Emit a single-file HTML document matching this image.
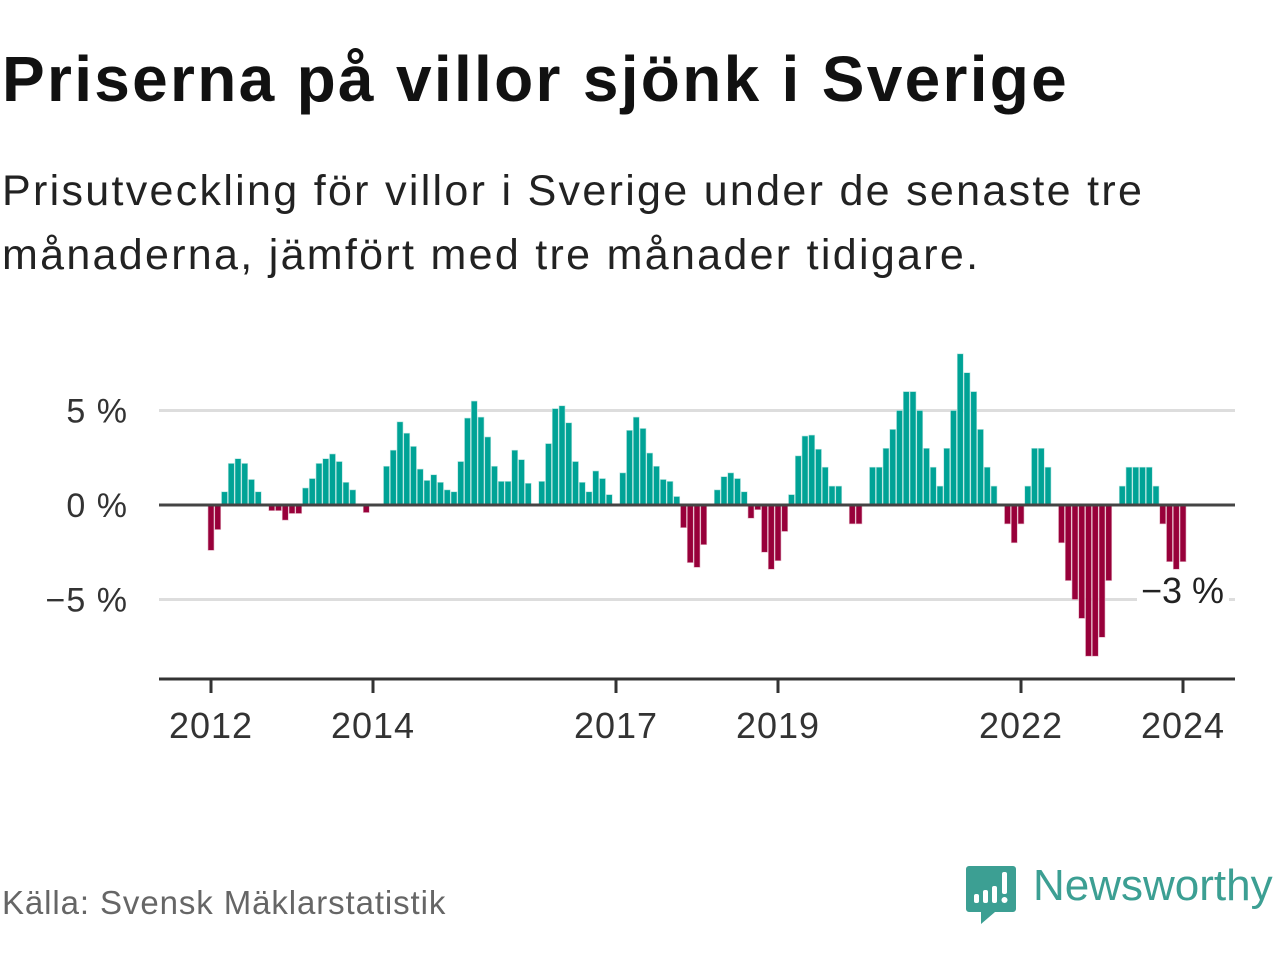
<!DOCTYPE html>
<html><head><meta charset="utf-8"><style>
body{margin:0;width:1280px;height:960px;background:#fff;font-family:"Liberation Sans",sans-serif;overflow:hidden;position:relative}
.t{position:absolute;margin:0;white-space:nowrap}
</style></head><body>
<h1 class="t" style="left:2px;top:42px;font-size:64px;font-weight:bold;color:#111;letter-spacing:2.3px">Priserna på villor sjönk i Sverige</h1>
<p class="t" style="left:2px;top:159px;font-size:43px;line-height:64px;color:#222;letter-spacing:2.3px">Prisutveckling för villor i Sverige under de senaste tre<br>månaderna, jämfört med tre månader tidigare.</p>
<svg id="chart" width="1280" height="960" style="position:absolute;left:0;top:0"></svg>
<p class="t" style="left:2px;top:884px;font-size:33px;color:#666;letter-spacing:0.9px">Källa: Svensk Mäklarstatistik</p>
<div style="position:absolute;left:965px;top:864px">
<svg width="52" height="62"><path d="M4 2h44a3 3 0 0 1 3 3v40a3 3 0 0 1-3 3H30l-14 12v-12H4a3 3 0 0 1-3-3V5a3 3 0 0 1 3-3z" fill="#3c9f93"/><rect x="9" y="30" width="5" height="9" rx="2" fill="#fff"/><rect x="18" y="26" width="5" height="13" rx="2" fill="#fff"/><rect x="27" y="22" width="5" height="17" rx="2" fill="#fff"/><rect x="37" y="8" width="5" height="22" rx="2" fill="#fff"/><circle cx="39.5" cy="36" r="3" fill="#fff"/></svg>
<span class="t" style="left:68px;top:-3px;font-size:44px;color:#3c9f93">Newsworthy</span>
</div>
<script>
const values=[-2.4,-1.3,0.7,2.2,2.45,2.2,1.35,0.7,0,-0.3,-0.3,-0.8,-0.45,-0.45,0.9,1.4,2.2,2.45,2.7,2.3,1.2,0.8,0,-0.4,0,0,2.05,2.9,4.4,3.8,3.1,1.9,1.3,1.6,1.2,0.8,0.7,2.3,4.6,5.5,4.65,3.6,2.05,1.25,1.25,2.9,2.4,1.15,0,1.25,3.25,5.1,5.25,4.35,2.3,1.2,0.7,1.8,1.4,0.55,0,1.7,3.95,4.65,4.05,2.75,2.05,1.35,1.25,0.45,-1.2,-3.05,-3.3,-2.1,0,0.8,1.5,1.7,1.4,0.7,-0.7,-0.25,-2.5,-3.4,-2.95,-1.4,0.55,2.6,3.65,3.7,2.95,2.0,1.0,1.0,0,-1,-1,0,2,2,3,4,5,6,6,5,3,2,1,3,5,8,7,6,4,2,1,0,-1,-2,-1,1,3,3,2,0,-2,-4,-5,-6,-8,-8,-7,-4,0,1,2,2,2,2,1,-1,-3,-3.4,-3];
const startYear=2012;
const yTicks=[5,0,-5];
const yTickLabels=["5 %","0 %","−5 %"];
const xTickYears=[2012,2014,2017,2019,2022,2024];
const lastLabel="−3 %";
const NS="http://www.w3.org/2000/svg",svg=document.getElementById('chart');
const x=i=>211+6.75*i, xYear=yr=>x((yr-startYear)*12), y=v=>505-18.9*v;
function mk(t,a){const e=document.createElementNS(NS,t);for(const k in a)e.setAttribute(k,a[k]);svg.appendChild(e);return e;}
yTicks.forEach((v,k)=>{
 if(v!==0){const g=mk('line',{x1:159,x2:1235,y1:y(v),y2:y(v),stroke:'#ddd','stroke-width':3});
 
 }
 const t=mk('text',{x:128,y:y(v)+12,'text-anchor':'end','font-size':34,fill:'#333','font-family':'Liberation Sans, sans-serif','letter-spacing':1});
 t.textContent=yTickLabels[k];
 
 
});
values.forEach((v,i)=>{
 if(v===0)return;
 const r=mk('rect',{x:x(i)-3,y:Math.min(y(v),y(0)),width:6,height:Math.abs(y(v)-y(0)),fill:v>0?'#00a396':'#98003a',stroke:v>0?'#b5e4df':'#e3b5c5','stroke-width':0.6});
 
 
});
const z=mk('line',{x1:159,x2:1235,y1:y(0),y2:y(0),stroke:'#444','stroke-width':3});


const ax=mk('line',{x1:159,x2:1235,y1:679,y2:679,stroke:'#333','stroke-width':3});


xTickYears.forEach(yr=>{
 const tk=mk('line',{x1:xYear(yr),x2:xYear(yr),y1:679,y2:693,stroke:'#333','stroke-width':3});
 
 
 const t=mk('text',{x:xYear(yr),y:738,'text-anchor':'middle','font-size':36,fill:'#333','font-family':'Liberation Sans, sans-serif','letter-spacing':1});
 t.textContent=yr;
 
 
});
const bg=mk('rect',{x:1137,y:572,width:92,height:36,fill:'#fff'});


const an=mk('text',{x:1224,y:603,'text-anchor':'end','font-size':36,fill:'#222','font-family':'Liberation Sans, sans-serif'});
an.textContent=lastLabel;


</script>
</body></html>
